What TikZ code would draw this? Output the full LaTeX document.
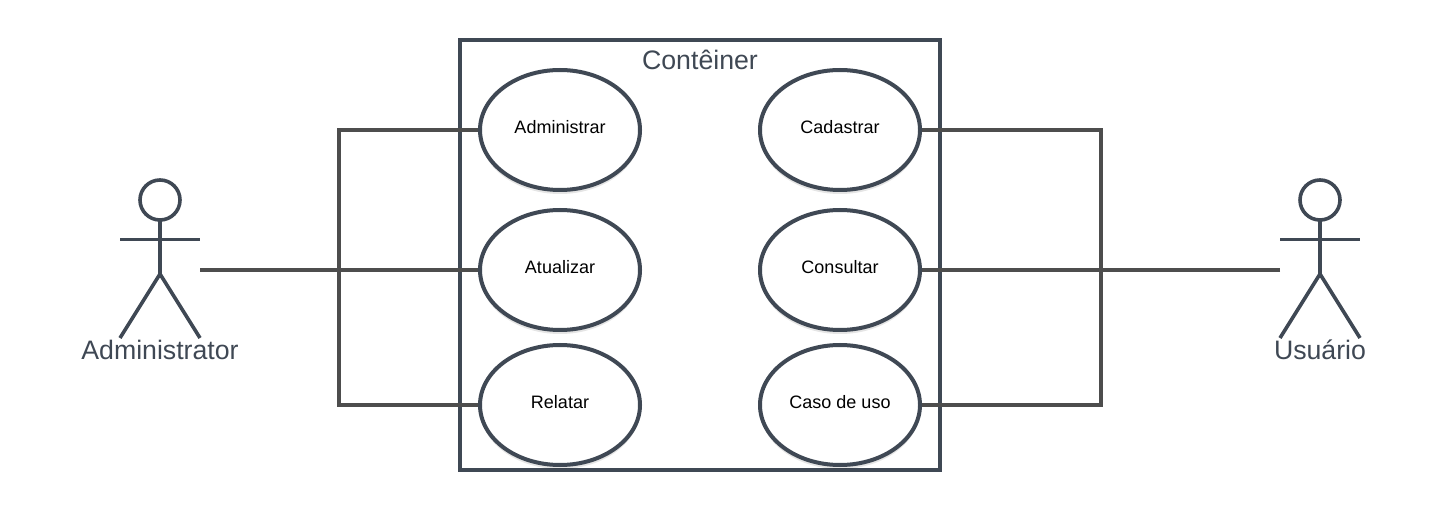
\documentclass[tikz,border=0pt]{standalone}
\usepackage{fontspec}
\setmainfont{Liberation Sans}
\usetikzlibrary{shapes.geometric,shadows}
\definecolor{ln}{HTML}{3F4854}
\definecolor{cn}{HTML}{4D4D4D}
\begin{document}
\begin{tikzpicture}[x=1pt,y=-1pt,
  usecase/.style={draw=ln,line width=4pt,ellipse,minimum width=160pt,minimum height=120pt,inner sep=0pt,outer sep=0pt,fill=white,font=\fontsize{18}{22}\selectfont,text=black,
    drop shadow={shadow xshift=0pt,shadow yshift=-4pt,opacity=.10,fill=black}},
  link/.style={draw=cn,line width=3.6pt},
  actor/.style={draw=ln,line width=3.6pt},
  lbl/.style={text=ln,font=\fontsize{26.7}{32}\selectfont,inner sep=0pt}]
\useasboundingbox (0,0) rectangle (1440,510);
\node[draw=ln,line width=4.4pt,minimum width=480pt,minimum height=430pt,inner sep=0pt,outer sep=0pt,anchor=north west] (box) at (460,40) {};
\node[lbl] (boxt) at (700,60) {Contêiner};
\coordinate (la) at (200,270);
\coordinate (ra) at (1280,270);
\coordinate (lbus) at (339,270);
\coordinate (rbus) at (1101,270);
\coordinate (ay1) at (480,130);
\coordinate (ay2) at (480,270);
\coordinate (ay3) at (480,405);
\coordinate (by1) at (920,130);
\coordinate (by2) at (920,270);
\coordinate (by3) at (920,405);
\draw[link] (la) -- (ay2);
\draw[link] (ay1) -- (lbus |- ay1) -- (lbus |- ay3) -- (ay3);
\draw[link] (ra) -- (by2);
\draw[link] (by1) -- (rbus |- by1) -- (rbus |- by3) -- (by3);
\node[usecase] (a1) at (560,130) {\raisebox{6.5pt}{Administrar}};
\node[usecase] (a2) at (560,270) {\raisebox{6.5pt}{Atualizar}};
\node[usecase] (a3) at (560,405) {\raisebox{6.5pt}{Relatar}};
\node[usecase] (b1) at (840,130) {\raisebox{6.5pt}{Cadastrar}};
\node[usecase] (b2) at (840,270) {\raisebox{6.5pt}{Consultar}};
\node[usecase] (b3) at (840,405) {\raisebox{6.5pt}{Caso de uso}};
\foreach \cx in {160,1320}{
  \draw[actor] (\cx,200) circle (20);
  \draw[actor] (\cx,220) -- (\cx,274);
  \draw[actor] (\cx-40,239.5) -- (\cx+40,239.5);
  \draw[actor] (\cx-40,338) -- (\cx,274) -- (\cx+40,338);
}
\node[lbl] (ta) at (160,350) {Administrator};
\node[lbl] (tu) at (1320,350) {Usuário};
\end{tikzpicture}
\end{document}
